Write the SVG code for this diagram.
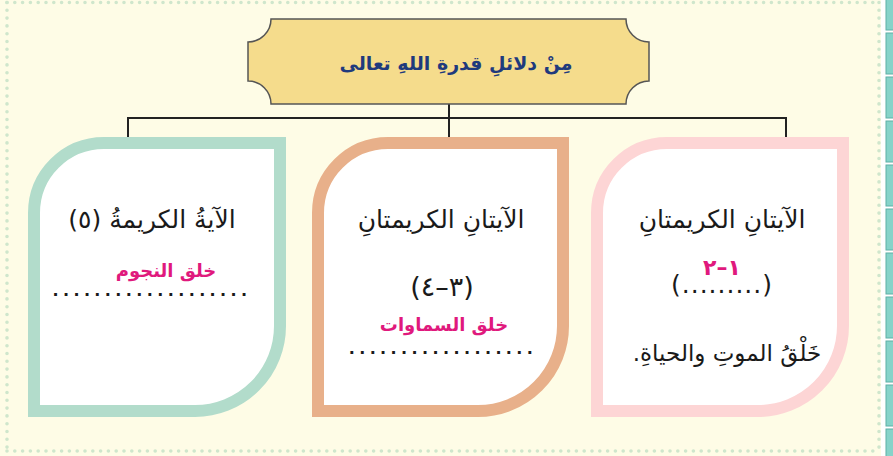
<svg xmlns="http://www.w3.org/2000/svg" width="893" height="456" viewBox="0 0 893 456">
<style>
.ar{font-family:"DejaVu Sans","Noto Sans",sans-serif;direction:rtl;text-anchor:middle;}
.main{font-size:25px;fill:#1a1a1a;}
.pink{font-size:18px;font-weight:bold;fill:#e0197d;}
.num{font-size:22px;font-weight:bold;fill:#e0197d;}
.dots{font-size:16px;font-weight:bold;fill:#1a1a1a;letter-spacing:4.4px;}
.title{font-size:19px;font-weight:bold;fill:#1f3a7d;}
.frame{fill:#ffffff;stroke-width:12;}
.dotline{stroke:#cfe6cc;stroke-width:3.6;stroke-linecap:round;stroke-dasharray:0 7.8;fill:none;}
.conn{stroke:#222;stroke-width:2;fill:none;}
.tile{fill:#86d3c9;stroke:#5fb0a6;stroke-width:1;}
</style>
<rect x="0" y="0" width="893" height="456" fill="#fefce6"/>
<rect x="881" y="0" width="12" height="456" fill="#ffffff"/>
<g id="tiles">
<rect class="tile" x="886" y="-12" width="10" height="42"/>
<rect class="tile" x="886" y="33" width="10" height="41"/>
<rect class="tile" x="886" y="77" width="10" height="41"/>
<rect class="tile" x="886" y="121" width="10" height="41"/>
<rect class="tile" x="886" y="165" width="10" height="41"/>
<rect class="tile" x="886" y="209" width="10" height="41"/>
<rect class="tile" x="886" y="253" width="10" height="41"/>
<rect class="tile" x="886" y="297" width="10" height="41"/>
<rect class="tile" x="886" y="341" width="10" height="41"/>
<rect class="tile" x="886" y="385" width="10" height="41"/>
<rect class="tile" x="886" y="429" width="10" height="41"/>
</g>
<g id="border">
<line class="dotline" x1="7" y1="2.5" x2="879" y2="2.5"/>
<line class="dotline" x1="7" y1="451" x2="879" y2="451"/>
<line class="dotline" x1="7" y1="2.5" x2="7" y2="451"/>
<line class="dotline" x1="879" y1="2.5" x2="879" y2="451"/>
</g>
<g id="connectors">
<line class="conn" x1="449" y1="104" x2="449" y2="137"/>
<polyline class="conn" points="128,137 128,118 786,118 786,137"/>
</g>
<g id="title">
<path d="M271,19 H626 A23,23 0 0 0 649,42 V81 A23,23 0 0 0 626,104 H271 A23,23 0 0 0 248,81 V42 A23,23 0 0 0 271,19 Z" fill="#f5dc8c" stroke="#555" stroke-width="1.5"/>
<text class="ar title" x="456" y="70">مِنْ دلائلِ قدرةِ اللهِ تعالى</text>
</g>
<g id="box-right">
<path class="frame" stroke="#fdd5d5" d="M667,143 H843 V326 A85,85 0 0 1 758,411 H597 V213 A70,70 0 0 1 667,143 Z"/>
<text class="ar main" x="722" y="228">الآيتانِ الكريمتانِ</text>
<text class="ar num" x="722" y="275">١–٢</text>
<text class="ar main" x="722" y="293" style="letter-spacing:1px">(.........)</text>
<text class="ar main" x="727" y="361" style="font-size:23px">خَلْقُ الموتِ والحياةِ.</text>
</g>
<g id="box-middle">
<path class="frame" stroke="#e8b08a" d="M388,143 H563 V326 A85,85 0 0 1 478,411 H318 V213 A70,70 0 0 1 388,143 Z"/>
<text class="ar main" x="441" y="228">الآيتانِ الكريمتانِ</text>
<text class="ar main" x="442" y="296" style="font-size:27px">(٣–٤)</text>
<text class="ar pink" x="444" y="331">خلق السماوات</text>
<text class="ar dots" x="443" y="354">..................</text>
</g>
<g id="box-left">
<path class="frame" stroke="#b2dccb" d="M104,143 H280 V326 A85,85 0 0 1 195,411 H34 V213 A70,70 0 0 1 104,143 Z"/>
<text class="ar main" x="152" y="228">الآيةُ الكريمةُ (٥)</text>
<text class="ar pink" x="166" y="277">خلق النجوم</text>
<text class="ar dots" x="152" y="296">...................</text>
</g>
</svg>
